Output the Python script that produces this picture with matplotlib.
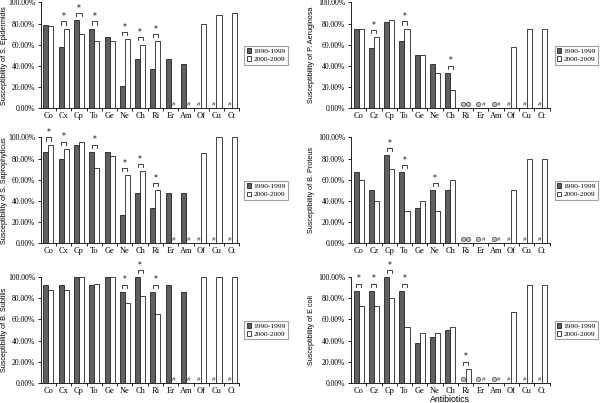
import matplotlib.pyplot as plt
import numpy as np

nan = np.nan

antibiotics_left = ['Co', 'Cx', 'Cp', 'To', 'Ge', 'Ne', 'Ch', 'Ri', 'Er', 'Am', 'Of', 'Cu', 'Ct']
antibiotics_right = ['Co', 'Cz', 'Cp', 'To', 'Ge', 'Ne', 'Ch', 'Ri', 'Er', 'Am', 'Of', 'Cu', 'Ct']
periods = ['1990-1999', '2000-2009']

# susceptibility in percent; nan = not tested (#), 0 = no susceptible strains
epi_90 = [79, 58, 83, 75, 67, 21, 46, 37, 46, 42, nan, nan, nan]
epi_00 = [78, 75, 70, 63, 63, 65, 60, 63, nan, nan, 80, 88, 90]
epi_sig = [1, 2, 3, 5, 6, 7]

aer_90 = [75, 57, 81, 63, 50, 42, 33, 0, 0, 0, nan, nan, nan]
aer_00 = [75, 67, 83, 75, 50, 33, 17, 0, nan, nan, 58, 75, 75]
aer_sig = [1, 3, 6]

sap_90 = [86, 80, 93, 86, 86, 27, 47, 33, 47, 47, nan, nan, nan]
sap_00 = [93, 89, 96, 71, 82, 64, 68, 50, nan, nan, 85, 100, 100]
sap_sig = [0, 1, 3, 5, 6, 7]

pro_90 = [67, 50, 83, 67, 33, 50, 50, 0, 0, 0, nan, nan, nan]
pro_00 = [60, 40, 70, 30, 40, 30, 60, 0, nan, nan, 50, 80, 80]
pro_sig = [2, 3, 5]

sub_90 = [93, 93, 100, 93, 100, 86, 100, 86, 93, 86, nan, nan, nan]
sub_00 = [88, 88, 100, 94, 100, 76, 82, 65, nan, nan, 100, 100, 100]
sub_sig = [5, 6, 7]

col_90 = [87, 87, 100, 87, 38, 43, 50, 0, 0, 0, nan, nan, nan]
col_00 = [73, 73, 80, 53, 47, 47, 53, 13, nan, nan, 67, 93, 93]
col_sig = [0, 1, 2, 3, 7]

panels = [
    ('Susceptibility of S. Epidermidis', antibiotics_left, epi_90, epi_00, epi_sig),
    ('Susceptibility of P. Aeruginosa', antibiotics_right, aer_90, aer_00, aer_sig),
    ('Susceptibility of S. Saprophyticus', antibiotics_left, sap_90, sap_00, sap_sig),
    ('Susceptibility of B. Proteus', antibiotics_right, pro_90, pro_00, pro_sig),
    ('Susceptibility of B. Subtilis', antibiotics_left, sub_90, sub_00, sub_sig),
    ('Susceptibility of E coli', antibiotics_right, col_90, col_00, col_sig),
]

serif = 'Liberation Serif'
sans = 'Liberation Sans'

fig = plt.figure(figsize=(6, 4.03), dpi=100)
lefts = [0.068, 0.585]
label_x = [-0.163, -0.18]
bottoms = [0.732, 0.397, 0.05]
w = 0.33

for k, (ylabel, cats, v90, v00, sig) in enumerate(panels):
    ax = fig.add_axes([lefts[k % 2], bottoms[k // 2], 0.331, 0.262])
    x = np.arange(len(cats))
    a = np.array(v90, dtype=float)
    b = np.array(v00, dtype=float)
    ax.bar(x - w / 2, np.nan_to_num(a), w, color='#5f5f5f', edgecolor='#222222', linewidth=0.6, label=periods[0])
    ax.bar(x + w / 2, np.nan_to_num(b), w, color='white', edgecolor='#222222', linewidth=0.6, label=periods[1])

    # markers for untested (#) and zero (circle) entries
    for vals, off in ((a, -w / 2), (b, w / 2)):
        for i, v in enumerate(vals):
            if np.isnan(v):
                ax.text(i + off, 1.0, '#', fontsize=5, ha='center', va='bottom', family=serif, color='#333333')
            elif v == 0:
                ax.plot(i + off, 4, marker='o', markersize=3.2, mfc='#bbbbbb', mec='#555555', mew=0.5, clip_on=False)

    # significance brackets
    for i in sig:
        top = np.nanmax([a[i], b[i]]) + 7
        ax.plot([i - w / 2, i - w / 2, i + w / 2, i + w / 2], [top - 3, top, top, top - 3],
                color='#222222', lw=0.6, clip_on=False)
        ax.text(i, top + 0.3, '*', fontsize=5.5, ha='center', va='bottom', clip_on=False)

    ax.set_xlim(-0.5, len(cats) - 0.5)
    ax.set_ylim(0, 100)
    ax.set_yticks(np.arange(0, 101, 20))
    ax.set_yticklabels(['%.2f%%' % t for t in np.arange(0, 101, 20)], family=serif, fontsize=5.5)
    ax.set_xticks(x)
    ax.set_xticklabels(cats, family=serif, fontsize=6)
    ax.set_xticks(np.arange(len(cats)) + 0.5, minor=True)
    ax.tick_params(axis='x', which='major', length=0, pad=3)
    ax.tick_params(axis='x', which='minor', length=2.5, width=0.6, direction='out')
    ax.tick_params(axis='y', length=2.5, width=0.6, pad=1.5)
    for s in ('top', 'right'):
        ax.spines[s].set_visible(False)
    for s in ('left', 'bottom'):
        ax.spines[s].set_linewidth(0.6)
    ax.set_ylabel(ylabel, family=sans, fontsize=5.2)
    ax.yaxis.set_label_coords(label_x[k % 2], 0.5)
    if k == 5:
        ax.set_xlabel('Antibiotics', family=sans, fontsize=6.3, labelpad=0)
    leg = ax.legend(loc='center left', bbox_to_anchor=(1.025, 0.5), prop={'family': serif, 'size': 5.3},
                    frameon=True, fancybox=False, edgecolor='#888888', handlelength=0.6, handleheight=0.6,
                    handletextpad=0.3, borderpad=0.3, labelspacing=0.35, borderaxespad=0)
    leg.get_frame().set_linewidth(0.8)

fig.savefig('out.png', dpi=100)
